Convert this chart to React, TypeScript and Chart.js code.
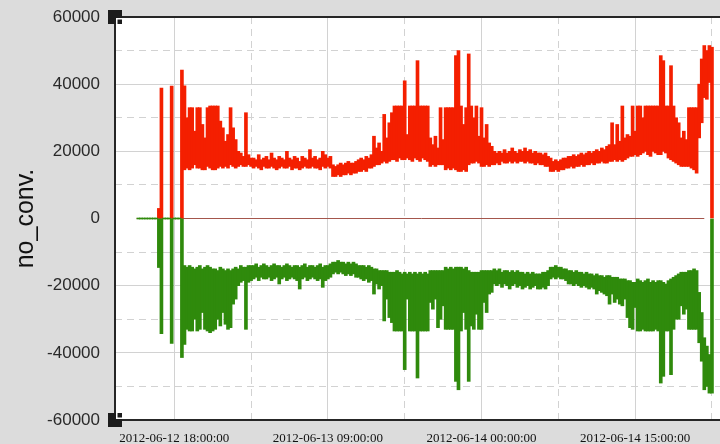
import React, { useEffect, useRef } from "react";
import { Chart, registerables } from "chart.js";

Chart.register(...registerables);

// ---------- data (15-minute bins: lowest / highest reading in each bin) ----------
const SERIES_START = "2012-06-12 14:30:00";
const STEP_MINUTES = 15;

const positiveHigh: number[] = [
  0, 0, 0, 0, 0, 0, 0, 0, 3000, 38800,
  0, 0, 0, 39400, 0, 0, 0, 44200, 39500, 30000,
  33000, 33000, 26000, 33000, 33000, 28000, 24000, 33000, 33500, 33500,
  33500, 33500, 29000, 27000, 23000, 25000, 33000, 27000, 23500, 20000,
  19500, 18500, 31500, 19000, 18000, 18000, 17500, 19000, 17500, 18000,
  18500, 17500, 19500, 18000, 17500, 18500, 18000, 17500, 20000, 18000,
  17500, 18500, 18000, 17000, 18500, 18000, 17500, 20500, 18000, 18500,
  17500, 18000, 20000, 19000, 18000, 18500, 16000, 15500, 16000, 16500,
  16000, 16500, 17000, 16500, 16500, 17000, 17500, 18000, 17500, 18500,
  18000, 19000, 24500, 21000, 22500, 20000, 31000, 24000, 28500, 31500,
  33500, 33500, 33500, 33500, 41000, 25000, 33500, 33500, 33500, 47000,
  33500, 33500, 33500, 33500, 24000, 22000, 24500, 21000, 33000, 23500,
  33000, 33000, 33000, 33000, 48500, 50000, 33500, 28000, 33000, 49000,
  33500, 30000, 33500, 24500, 33000, 24000, 28000, 22500, 21500, 20000,
  19500, 20000, 19500, 20500, 19500, 20000, 21000, 20000, 19500, 20500,
  20000, 21000, 20000, 20500, 19500, 20000, 19500, 19500, 19000, 19500,
  18500, 18000, 17000, 17500, 17000, 17500, 18000, 18000, 18500, 18500,
  19000, 18500, 19000, 19500, 19000, 19500, 20000, 19500, 20000, 20500,
  20000, 21000, 20500, 21500, 22000, 28500, 22000, 28000, 23000, 33500,
  24000, 25000, 24500, 33500, 26000, 33500, 33500, 30000, 33500, 33500,
  33500, 33500, 33500, 33500, 48500, 47000, 33500, 33500, 45500, 33500,
  30000, 28500, 24000, 26000, 23500, 33000, 33000, 33000, 33000, 40000,
  47500, 51500, 50000, 51500, 51000,
];

const positiveLow: number[] = [
  0, 0, 0, 0, 0, 0, 0, 0, 0, 0,
  0, 0, 0, 0, 0, 0, 0, 0, 14500, 15000,
  14500, 15000, 16000, 15000, 15000, 14500, 14500, 15500, 15000, 14500,
  14500, 15000, 15500, 15000, 15500, 15000, 16000, 15500, 15000, 15500,
  16000, 15500, 15500, 16000, 15500, 15000, 15500, 15000, 14500, 15500,
  15000, 15000, 15500, 15000, 14500, 15000, 15500, 15000, 15000, 15500,
  14500, 15000, 15000, 14500, 15000, 15500, 15000, 15000, 15500, 15000,
  15000, 14500, 15500, 15000, 15500, 15000, 12500, 12500, 13000, 12500,
  13000, 13000, 13500, 13000, 13500, 13500, 14000, 14000, 14500, 14000,
  15000, 15000, 15500, 16000, 16000, 16500, 17000, 16500, 17000, 17500,
  17500, 17000, 18000, 17500, 17500, 18000, 17500, 17000, 18000, 17500,
  17000, 18000, 17500, 17000, 15500, 16000, 15500, 16000, 16000, 16000,
  14500, 15000, 14500, 15000, 14500, 14000, 14000, 14500, 14000, 16000,
  16500, 16500, 17000, 16500, 15500, 15500, 16000, 15500, 16000, 16000,
  16500, 16000, 17000, 16500, 16500, 17000, 16500, 17000, 16500, 17000,
  17000, 16500, 17000, 16500, 16500, 16000, 16500, 16000, 16000, 15500,
  15500, 14000, 14000, 14500, 14000, 14500, 14500, 15000, 15000, 15500,
  15000, 15500, 15500, 16000, 15500, 16000, 16000, 16500, 16000, 16500,
  16500, 17000, 16500, 16500, 17000, 17000, 17500, 17000, 17500, 17000,
  17500, 18000, 18500, 18500, 19000, 18500, 19000, 19500, 20000, 19000,
  18500, 20000, 19500, 19000, 19000, 20000, 19500, 18000, 17500, 17000,
  16500, 16000, 15500, 15500, 15500, 15500, 15000, 14500, 13500, 24000,
  28500, 36000, 35500, 40500, 0,
];

const negativeHigh: number[] = [
  0, 0, 0, 0, 0, 0, 0, 0, 0, 0,
  0, 0, 0, 0, 0, 0, 0, 0, -14000, -14500,
  -14000, -14500, -15000, -14500, -14000, -15000, -14500, -14000, -14500, -15000,
  -15000, -15500, -14500, -15000, -15500, -15000, -15500, -15000, -14500, -15000,
  -14000, -14500, -14500, -14000, -14000, -14000, -13500, -14500, -14000, -13500,
  -14000, -14500, -14000, -13500, -14000, -14000, -14500, -14000, -13500, -14000,
  -14500, -14000, -14000, -14500, -14000, -13500, -14500, -14000, -14000, -14500,
  -14000, -13500, -14500, -14000, -14000, -13500, -13000, -13000, -12500, -13000,
  -13000, -13500, -13000, -13500, -13000, -13500, -14000, -14000, -14000, -14500,
  -14000, -14500, -15000, -15000, -15500, -15500, -15500, -15500, -16000, -16000,
  -16000, -15500, -16000, -16500, -16000, -16500, -16000, -16500, -16000, -16500,
  -16000, -16500, -16000, -16500, -15500, -15500, -15500, -15500, -15500, -15500,
  -14500, -15000, -14500, -15000, -14500, -14500, -14500, -15000, -14500, -15500,
  -16000, -16000, -16000, -16000, -15500, -15500, -15500, -15500, -15500, -15000,
  -15500, -15000, -16000, -15500, -15500, -16000, -15500, -16000, -15500, -16000,
  -16000, -16500, -16000, -16500, -16000, -16500, -16500, -16500, -16000, -16000,
  -15500, -14500, -14500, -14000, -14500, -14500, -15000, -15000, -15500, -15500,
  -16000, -15500, -16000, -16000, -16500, -16000, -16500, -16500, -17000, -16500,
  -17000, -17000, -17500, -17000, -17000, -17500, -17500, -17500, -18000, -18000,
  -18000, -18500, -18500, -19000, -19000, -18000, -18500, -19000, -18500, -18000,
  -19000, -18500, -19000, -18500, -18500, -19000, -19500, -18500, -18000, -17500,
  -17000, -16500, -16000, -16000, -16000, -15500, -15500, -15000, -15500, -22000,
  -28000, -35500, -38000, -40500, 0,
];

const negativeLow: number[] = [
  0, 0, 0, 0, 0, 0, 0, 0, -14600, -34300,
  0, 0, 0, -37200, 0, 0, 0, -41400, -37500, -33000,
  -33500, -33500, -30000, -33500, -33000, -28000, -33000, -33500, -34000, -33500,
  -33000, -30000, -32000, -28000, -31500, -33000, -32500, -25500, -24000, -20000,
  -19000, -18500, -33000, -19000, -18500, -18000, -17500, -18500, -17500, -18000,
  -18000, -17500, -18500, -18000, -17500, -19500, -18000, -17500, -18500, -18000,
  -17500, -18000, -18500, -21000, -18000, -17500, -18500, -18000, -17500, -18000,
  -18500, -18000, -20500, -18500, -18000, -17500, -16500, -16000, -16500, -16000,
  -16500, -17000, -16500, -17000, -16500, -17500, -17500, -18000, -18500, -18000,
  -19000, -18500, -22500, -19500, -21000, -20000, -30500, -24000, -29500, -31000,
  -33500, -33500, -33500, -33500, -45000, -24000, -33500, -33500, -33500, -47500,
  -33500, -33500, -33500, -33500, -25000, -27000, -24000, -32500, -30000, -26000,
  -33000, -33000, -33000, -33000, -48500, -51000, -33500, -28000, -33000, -48500,
  -32000, -33000, -28500, -33000, -33000, -25000, -28000, -22500, -22000, -19500,
  -20000, -19500, -20500, -19500, -20000, -21000, -20000, -19500, -20500, -20000,
  -21000, -20500, -20000, -21000, -20500, -20000, -21000, -21000, -20500, -21000,
  -20000, -18000, -17500, -18000, -17500, -18000, -18000, -18500, -19500, -19500,
  -20000, -19500, -20000, -20500, -20000, -20500, -21000, -20500, -21000, -22500,
  -21500, -22000, -22500, -23000, -25500, -22500, -25000, -24000, -25500, -26000,
  -24000, -29500, -32500, -33000, -26500, -33500, -33500, -33000, -33500, -33500,
  -33500, -33500, -33000, -33500, -49000, -47000, -33500, -33500, -46500, -33000,
  -30000, -30000, -26000, -28500, -27000, -33000, -33000, -33000, -33000, -37000,
  -42500, -51000, -50000, -52000, -52000,
];

const zeroLineTimes: string[] = ["2012-06-12 14:30:00", "2012-06-14 21:45:00"];
const zeroLineValues: number[] = [0, 0];

const X_MIN = "2012-06-12 12:13:00";
const X_MAX = "2012-06-14 23:17:00";
const xLabelTicks: string[] = [
  "2012-06-12 18:00:00",
  "2012-06-13 09:00:00",
  "2012-06-14 00:00:00",
  "2012-06-14 15:00:00",
];
const xMinorTicks: string[] = [
  "2012-06-13 01:30:00",
  "2012-06-13 16:30:00",
  "2012-06-14 07:30:00",
  "2012-06-14 22:30:00",
];
const Y_MIN = -60000;
const Y_MAX = 60000;
const Y_STEP = 10000;
const Y_LABEL_STEP = 20000;

// ---------- helpers ----------
function parseTs(s: string): number {
  const [d, t] = s.split(" ");
  const [Y, M, D] = d.split("-").map(Number);
  const [h, m, sec] = t.split(":").map(Number);
  return Date.UTC(Y, M - 1, D, h, m, sec || 0);
}
function pad(n: number) {
  return n < 10 ? "0" + n : String(n);
}
function fmtTs(ms: number): string {
  const d = new Date(ms);
  return (
    d.getUTCFullYear() + "-" + pad(d.getUTCMonth() + 1) + "-" + pad(d.getUTCDate()) + " " +
    pad(d.getUTCHours()) + ":" + pad(d.getUTCMinutes()) + ":" + pad(d.getUTCSeconds())
  );
}

const RED = "#f41f00";
const GREEN = "#2f8a0c";
const ZERO = "#a4564c";
const GRID = "#d2d2d2";

export default function App() {
  const ref = useRef<HTMLCanvasElement | null>(null);

  useEffect(() => {
    if (!ref.current) return;
    const start = parseTs(SERIES_START);
    const step = STEP_MINUTES * 60000;
    const toBars = (lo: number[], hi: number[]) =>
      lo.map((v, i) => ({ x: start + i * step, y: [v, hi[i]] }));
    const labeled = new Set(xLabelTicks.map(parseTs));
    const allTicks = [...xLabelTicks, ...xMinorTicks].map(parseTs).sort((a, b) => a - b);

    const bgPlugin = {
      id: "bg",
      beforeDraw(chart: any) {
        const { ctx, chartArea: a } = chart;
        ctx.save();
        ctx.fillStyle = "#dcdcdc";
        ctx.fillRect(0, 0, chart.width, chart.height);
        ctx.fillStyle = "#ffffff";
        ctx.fillRect(a.left, a.top, a.right - a.left, a.bottom - a.top);
        ctx.restore();
      },
    };
    const framePlugin = {
      id: "frame",
      afterDraw(chart: any) {
        const { ctx, chartArea: a } = chart;
        ctx.save();
        ctx.strokeStyle = "#262626";
        ctx.lineWidth = 2;
        ctx.beginPath();
        ctx.moveTo(a.right, a.top);
        ctx.lineTo(a.left, a.top);
        ctx.lineTo(a.left, a.bottom);
        ctx.lineTo(a.right, a.bottom);
        ctx.stroke();
        const cx = a.left;
        ctx.fillStyle = "#1c1c1c";
        ctx.fillRect(cx - 7, a.top - 7, 14, 14);
        ctx.fillStyle = "#ffffff";
        ctx.fillRect(cx + 1, a.top + 1, 6, 6);
        ctx.fillStyle = "#1c1c1c";
        ctx.fillRect(cx + 2.5, a.top + 2.5, 4.5, 4.5);
        ctx.fillRect(cx - 7, a.bottom - 7, 14, 14);
        ctx.fillStyle = "#ffffff";
        ctx.fillRect(cx + 1, a.bottom - 7, 6, 6);
        ctx.fillStyle = "#1c1c1c";
        ctx.fillRect(cx + 2.5, a.bottom - 7, 4.5, 4.5);
        ctx.restore();
      },
    };

    const chart = new Chart(ref.current, {
      type: "line",
      data: {
        datasets: [
          {
            type: "bar",
            label: "negative",
            data: toBars(negativeLow, negativeHigh),
            backgroundColor: GREEN,
            borderWidth: 0,
            grouped: false,
            barThickness: 3,
            minBarLength: 1,
          },
          {
            type: "bar",
            label: "positive",
            data: toBars(positiveLow, positiveHigh),
            backgroundColor: RED,
            borderWidth: 0,
            grouped: false,
            barThickness: 3,
          },
          {
            type: "line",
            label: "zero",
            data: zeroLineTimes.map((t, i) => ({ x: parseTs(t), y: zeroLineValues[i] })),
            borderColor: ZERO,
            borderWidth: 1,
            pointRadius: 0,
            fill: false,
          },
        ],
      },
      options: {
        animation: false,
        responsive: false,
        maintainAspectRatio: false,
        events: [],
        layout: { padding: { top: 17, left: 0, right: 0, bottom: 0 } },
        elements: { line: { tension: 0 } },
        plugins: { legend: { display: false }, tooltip: { enabled: false } },
        scales: {
          x: {
            type: "linear",
            offset: false,
            min: parseTs(X_MIN),
            max: parseTs(X_MAX),
            afterBuildTicks: (s: any) => {
              s.ticks = allTicks.map((v) => ({ value: v }));
            },
            afterFit: (s: any) => {
              s.height = 24;
              s.paddingLeft = 0;
              s.paddingRight = 0;
            },
            grid: { color: GRID, lineWidth: 1, drawTicks: false, offset: false },
            border: {
              display: false,
              dash: (c: any) => (c.tick && !labeled.has(c.tick.value) ? [7, 5] : []),
            },
            ticks: {
              autoSkip: false,
              maxRotation: 0,
              minRotation: 0,
              padding: 11,
              color: "#111",
              font: { family: "Liberation Serif", size: 13 },
              callback: (v: any) => (labeled.has(Number(v)) ? fmtTs(Number(v)) : ""),
            },
          },
          y: {
            min: Y_MIN,
            max: Y_MAX,
            afterFit: (s: any) => {
              s.width = 115;
              s.paddingTop = 0;
              s.paddingBottom = 0;
            },
            grid: {
              drawTicks: false,
              lineWidth: 1,
              color: (c: any) => {
                const v = c.tick ? c.tick.value : 1;
                if (v === 0 || v === Y_MIN || v === Y_MAX) return "rgba(0,0,0,0)";
                return GRID;
              },
            },
            border: {
              display: false,
              dash: (c: any) => (c.tick && c.tick.value % Y_LABEL_STEP !== 0 ? [7, 5] : []),
            },
            ticks: {
              stepSize: Y_STEP,
              padding: 15,
              color: "#2a2a2a",
              font: { family: "Liberation Sans", size: 17 },
              callback: (v: any) => (Number(v) % Y_LABEL_STEP === 0 ? String(v) : ""),
            },
            title: {
              display: true,
              text: "no_conv.",
              color: "#111",
              font: { family: "Liberation Sans", size: 25 },
              padding: { top: 11, bottom: 0 },
            },
          },
        },
      },
      plugins: [bgPlugin, framePlugin],
    } as any);
    return () => chart.destroy();
  }, []);

  return (
    <div style={{ position: "absolute", left: 0, top: 0, width: 720, height: 444, background: "#dcdcdc" }}>
      <canvas ref={ref} width={720} height={444} style={{ display: "block" }} />
    </div>
  );
}
